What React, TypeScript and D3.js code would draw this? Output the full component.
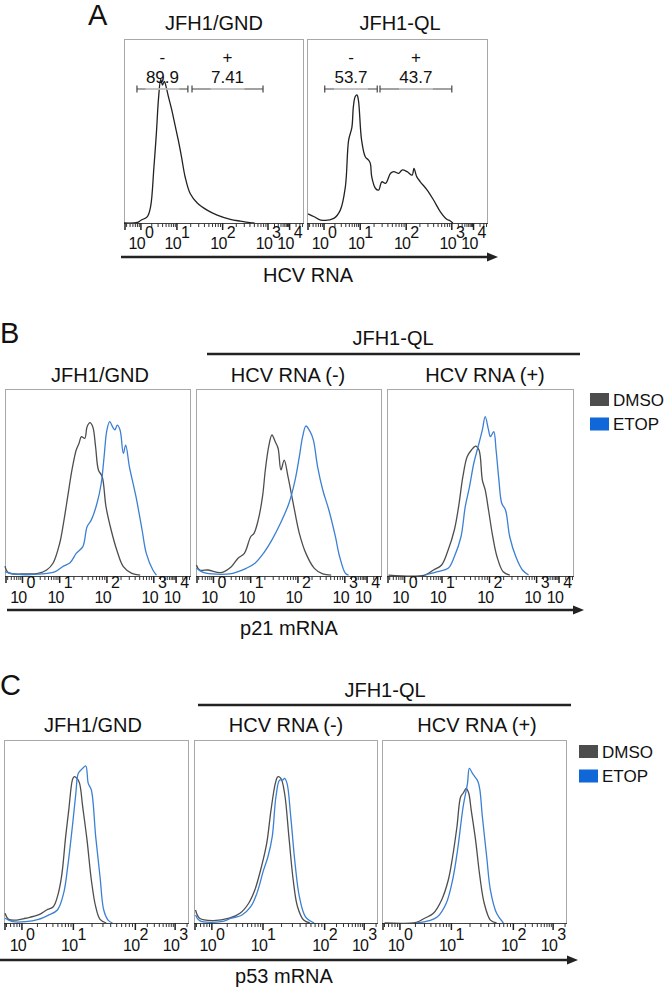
import React from "react";
import * as d3 from "d3";

const FONT = "'Liberation Sans', Arial, Helvetica, sans-serif";

// ---------- DATA ----------
// x values are log10(intensity), y values are % of panel max
const panelATitles = ["JFH1/GND", "JFH1-QL"];
const gateSigns = ["-", "+"];
const aGndGatePct = ["89.9", "7.41"];
const aQlGatePct = ["53.7", "43.7"];
const aGndGates: [number, number][] = [[-0.11, 1.24], [1.33, 2.89]];
const aQlGates: [number, number][] = [[0.02, 1.37], [1.43, 3.0]];

const aGnd: [number, number][] = [[-0.47,0],[-0.1,0.3],[0.0,1.5],[0.18,3.5],[0.27,9],[0.36,30],[0.43,49],[0.49,68],[0.55,78],[0.6,75],[0.65,77],[0.7,74],[0.76,69],[0.85,62],[0.95,53],[1.03,45],[1.1,36],[1.18,25],[1.29,16],[1.44,11],[1.66,7],[1.88,4.3],[2.17,2],[2.39,1],[2.6,0.2],[2.7,0]];
const aQl: [number, number][] = [[-0.44,5],[-0.27,3.4],[-0.09,1.6],[0.27,2.5],[0.45,7],[0.59,19.7],[0.68,45],[0.77,52],[0.81,63],[0.86,68.6],[0.91,69.6],[0.95,66.8],[1.03,45],[1.11,36],[1.18,34.2],[1.22,32.4],[1.25,25.2],[1.33,18.9],[1.40,17.9],[1.47,22.4],[1.55,21.5],[1.66,27],[1.73,27.9],[1.84,27],[1.91,28.8],[2.02,27.9],[2.13,26],[2.17,29.7],[2.23,25.2],[2.31,22.4],[2.46,17.9],[2.60,12.5],[2.75,6.1],[2.89,2],[2.96,1.2],[3.05,0]];

const groupTitle = "JFH1-QL";
const bcTitles = ["JFH1/GND", "HCV RNA (-)", "HCV RNA (+)"];
const legendLabels = ["DMSO", "ETOP"];
const axisTitles = ["HCV RNA", "p21 mRNA", "p53 mRNA"];
const panelLetters = ["A", "B", "C"];
const decadesAB = [0, 1, 2, 3, 4];
const decadesC = [0, 1, 2, 3];

const bGndDmso: [number, number][] = [[-0.47,5.3],[-0.38,1.8],[0.08,1.1],[0.42,1.4],[0.65,3.2],[0.82,6.8],[1.0,17.5],[1.08,28.2],[1.17,42.4],[1.26,56.7],[1.35,67.4],[1.41,71],[1.46,74.5],[1.53,73.6],[1.58,79.8],[1.64,82],[1.70,79.8],[1.76,69.1],[1.82,56.7],[1.90,53.1],[1.98,37.1],[2.09,24.6],[2.21,13.9],[2.35,5],[2.53,1.4],[2.71,0.5]];
const bGndEtop: [number, number][] = [[-0.47,2.3],[-0.26,1.1],[0.54,1.1],[0.88,2.3],[1.08,5.3],[1.22,7.1],[1.35,12.1],[1.49,15.7],[1.58,26.4],[1.67,30],[1.79,38.9],[1.88,49.6],[1.94,63.8],[2.0,78.1],[2.06,82.5],[2.12,79.8],[2.17,78.1],[2.22,80.7],[2.28,78.1],[2.35,65.6],[2.40,70],[2.48,58.4],[2.62,42.4],[2.75,24.6],[2.84,12.1],[2.98,3.2],[3.12,0.5]];
const bNegDmso: [number, number][] = [[-0.46,5.9],[-0.37,3.2],[-0.14,3.2],[0.20,1.8],[0.48,5],[0.66,9.5],[0.83,12.1],[1.0,21],[1.07,22.8],[1.16,30],[1.25,42.4],[1.31,56.7],[1.38,69.1],[1.45,75.4],[1.52,71.8],[1.58,68.3],[1.64,56.7],[1.71,62],[1.79,53.1],[1.90,38.9],[2.03,22.8],[2.17,12.1],[2.35,4.1],[2.53,1.1],[2.71,0.5]];
const bNegEtop: [number, number][] = [[-0.46,4.1],[-0.26,1.8],[0.43,1.1],[0.66,2.3],[0.88,4.1],[1.09,6.8],[1.27,12.1],[1.45,19.3],[1.63,28.2],[1.81,38.9],[1.94,51.3],[2.03,63.8],[2.10,74.5],[2.17,80.2],[2.26,77.2],[2.33,72.7],[2.42,58.4],[2.53,46],[2.66,35.3],[2.80,21],[2.89,10.3],[3.03,1.4],[3.17,0.5]];
const bPosDmso: [number, number][] = [[-0.43,0.5],[0.54,0.5],[0.77,3.2],[0.99,5.9],[1.13,13.9],[1.26,24.6],[1.35,37.1],[1.44,53.1],[1.53,63.8],[1.62,67.4],[1.71,69.5],[1.78,67.4],[1.85,51.3],[1.91,46],[1.98,35.3],[2.07,21],[2.16,10.3],[2.29,2.3],[2.43,0.5]];
const bPosEtop: [number, number][] = [[0.54,0.5],[0.88,2.3],[1.13,4.1],[1.26,10.3],[1.40,21],[1.49,37.1],[1.58,47.8],[1.67,60.3],[1.76,69.1],[1.85,78.1],[1.91,85.2],[1.98,78.1],[2.02,74.5],[2.09,77.2],[2.14,67.4],[2.20,51.3],[2.26,38.9],[2.34,35.3],[2.43,21],[2.56,10.3],[2.70,3.2],[2.83,0.5]];

const cGndDmso: [number, number][] = [[-0.33,5.3],[-0.26,2],[-0.10,1.6],[0.07,2.6],[0.32,4.4],[0.48,7.1],[0.61,8.9],[0.69,14.4],[0.77,25.3],[0.85,47.2],[0.91,61.7],[0.98,78.1],[1.01,79.9],[1.06,79],[1.10,76.3],[1.15,63.6],[1.22,45.4],[1.29,23.5],[1.36,8.9],[1.43,2],[1.53,0]];
const cGndEtop: [number, number][] = [[-0.33,2.6],[-0.18,0.7],[0.07,0.7],[0.32,2],[0.52,4.4],[0.69,7.1],[0.81,16.2],[0.89,30.8],[0.98,52.6],[1.04,70.9],[1.08,81.8],[1.15,84.5],[1.20,85.8],[1.24,76.3],[1.29,72.7],[1.36,47.2],[1.43,25.3],[1.49,7.1],[1.56,1.6],[1.63,0]];
const cNegDmso: [number, number][] = [[-0.32,7.1],[-0.24,2.6],[0.01,1.3],[0.34,2.6],[0.55,5.3],[0.72,10.8],[0.84,18],[0.97,30.8],[1.06,43.5],[1.13,61.7],[1.20,76.3],[1.24,79.9],[1.29,79],[1.35,70.9],[1.42,47.2],[1.49,23.5],[1.56,8.9],[1.66,1.6],[1.76,0]];
const cNegEtop: [number, number][] = [[-0.32,4.4],[-0.24,1.3],[0.18,0.7],[0.38,2.6],[0.59,4.4],[0.76,8.9],[0.88,16.2],[1.01,29],[1.08,36.2],[1.15,47.2],[1.21,69],[1.27,78.1],[1.32,78.1],[1.35,79],[1.39,76.3],[1.45,58.1],[1.52,32.6],[1.59,14.4],[1.69,3.4],[1.83,0]];
const cPosDmso: [number, number][] = [[-0.30,0],[0.32,0.4],[0.48,2.6],[0.65,5.3],[0.81,12.6],[0.94,23.5],[1.02,36.2],[1.09,52.6],[1.15,69],[1.19,70.9],[1.24,73.6],[1.28,70.9],[1.32,61.7],[1.39,45.4],[1.46,25.3],[1.53,10.8],[1.63,1.6],[1.73,0]];
const cPosEtop: [number, number][] = [[0.32,0],[0.57,1.3],[0.73,3.4],[0.90,10.8],[1.02,23.5],[1.10,39.9],[1.19,63.6],[1.26,76.3],[1.29,84.5],[1.34,81.8],[1.38,79.9],[1.43,77.2],[1.46,72.7],[1.50,58.1],[1.57,36.2],[1.63,18],[1.73,5.3],[1.84,0]];

// ---------- STYLE / LAYOUT ----------
const GRAY = "#4e4e4e";
const BLUE = "#3b80d4";
const LEG_GRAY = "#4d4d4d";
const LEG_BLUE = "#0f67d8";
const BOX = "#a8a8a8";

const fracAB = [0.094, 0.294, 0.548, 0.8, 0.92];
const fracC = [0.097, 0.375, 0.71, 0.925];
const uRangeAB: [number, number] = [-0.47, 4.67];
const uRangeC: [number, number] = [-0.35, 3.35];

type Curve = { data: [number, number][]; color: string };

function Histo(props: {
  x: number; y: number; w: number; h: number;
  decades: number[]; frac: number[]; uRange: [number, number];
  curves: Curve[]; labelDy: number; labelGap: number;
  gates?: [number, number][]; gatePct?: string[];
}) {
  const { x, y, w, h, decades, frac, uRange, curves, labelDy, labelGap, gates, gatePct } = props;
  const xs = d3.scaleLinear()
    .domain([uRange[0], ...decades, uRange[1]])
    .range([x, ...frac.map((f) => x + f * w), x + w]);
  const ys = d3.scaleLinear().domain([0, 100]).range([y + h, y]);
  const line = d3.line<[number, number]>()
    .x((d) => xs(d[0]))
    .y((d) => ys(d[1]))
    .curve(d3.curveCatmullRom.alpha(0.5));
  const bottom = y + h;
  const minor: number[] = [];
  for (let dd = -1; dd <= decades[decades.length - 1]; dd++) {
    for (let k = 2; k <= 9; k++) {
      const u = dd + Math.log10(k);
      if (u > uRange[0] && u < uRange[1]) minor.push(u);
    }
  }
  return (
    <g>
      <rect x={x + 0.5} y={y + 0.5} width={w - 1} height={h} fill="none" stroke={BOX} strokeWidth={1} />
      {curves.map((c, i) => (
        <path key={i} d={line(c.data) || ""} fill="none" stroke={c.color} strokeWidth={1.3} strokeLinejoin="round" />
      ))}
      <line x1={x} x2={x + w} y1={bottom + 0.5} y2={bottom + 0.5} stroke="#444" strokeWidth={1} />
      <line x1={x + 1} x2={x + 1} y1={bottom} y2={bottom + 7} stroke="#222" strokeWidth={1.5} />
      {minor.map((u, i) => (
        <line key={"m" + i} x1={xs(u)} x2={xs(u)} y1={bottom} y2={bottom + 4} stroke="#333" strokeWidth={1} />
      ))}
      {decades.map((dd) => (
        <line key={"M" + dd} x1={xs(dd)} x2={xs(dd)} y1={bottom} y2={bottom + 7} stroke="#222" strokeWidth={1.5} />
      ))}
      {decades.map((dd) => (
        <text key={"t" + dd} x={xs(dd)} y={bottom + labelGap} textAnchor="middle" fontSize={16} letterSpacing={-0.7} fontFamily={FONT} fill="#111">
          10<tspan dy={labelDy} fontSize={16}>{dd}</tspan>
        </text>
      ))}
      {gates && gatePct && gates.map((g, i) => {
        const x1 = xs(g[0]);
        const x2 = xs(g[1]);
        const mid = (x1 + x2) / 2;
        const gy = 89;
        return (
          <g key={"g" + i}>
            <line x1={x1} x2={x2} y1={gy} y2={gy} stroke="#444" strokeWidth={1.2} />
            <line x1={mid - 17} x2={mid + 17} y1={gy} y2={gy} stroke="#cfcfcf" strokeWidth={1.4} />
            <line x1={x1} x2={x1} y1={gy - 3.5} y2={gy + 3.5} stroke="#444" strokeWidth={1.2} />
            <line x1={x2} x2={x2} y1={gy - 3.5} y2={gy + 3.5} stroke="#444" strokeWidth={1.2} />
            <text x={mid} y={63} textAnchor="middle" fontSize={17} fontFamily={FONT} fill="#111">{gateSigns[i]}</text>
            <text x={mid} y={83} textAnchor="middle" fontSize={17} fontFamily={FONT} fill="#111">{gatePct[i]}</text>
          </g>
        );
      })}
    </g>
  );
}

function Arrow(props: { x1: number; x2: number; y: number }) {
  const { x1, x2, y } = props;
  return (
    <g>
      <line x1={x1} x2={x2 - 8} y1={y} y2={y} stroke="#222" strokeWidth={2.5} />
      <path d={`M${x2 - 11},${y - 4.5} L${x2},${y} L${x2 - 11},${y + 4.5} Z`} fill="#222" />
    </g>
  );
}

function Legend(props: { x: number; y: number }) {
  const { x, y } = props;
  const cols = [LEG_GRAY, LEG_BLUE];
  return (
    <g>
      {legendLabels.map((l, i) => (
        <g key={l}>
          <rect x={x} y={y + i * 24.5} width={19} height={13} fill={cols[i]} />
          <text x={x + 23} y={y + 12.5 + i * 24.5} fontSize={17} fontFamily={FONT} fill="#111">{l}</text>
        </g>
      ))}
    </g>
  );
}

function Title(props: { x: number; y: number; text: string; size?: number; anchor?: string }) {
  return (
    <text x={props.x} y={props.y} textAnchor={props.anchor || "middle"} fontSize={props.size || 20} fontFamily={FONT} fill="#111">
      {props.text}
    </text>
  );
}

export default function App() {
  const aBoxes = [{ x: 124, w: 180 }, { x: 307, w: 181 }];
  const aTitleX = [214, 400];
  const aCurves = [aGnd, aQl];
  const aGates = [aGndGates, aQlGates];
  const aPct = [aGndGatePct, aQlGatePct];

  const bBoxes = [{ x: 5, w: 186 }, { x: 196, w: 186 }, { x: 387, w: 187 }];
  const bTitleX = [100, 288, 485];
  const bDmso = [bGndDmso, bNegDmso, bPosDmso];
  const bEtop = [bGndEtop, bNegEtop, bPosEtop];

  const cBoxes = [{ x: 4, w: 185 }, { x: 194, w: 184 }, { x: 382, w: 185 }];
  const cTitleX = [93, 286, 477];
  const cDmso = [cGndDmso, cNegDmso, cPosDmso];
  const cEtop = [cGndEtop, cNegEtop, cPosEtop];

  return (
    <svg width={666} height={991} style={{ position: "absolute", left: 0, top: 0, background: "#fff" }}>
      <rect x={0} y={0} width={666} height={991} fill="#fff" />
      {/* Panel A */}
      <Title x={88} y={25} text={panelLetters[0]} size={29} anchor="start" />
      {aBoxes.map((b, i) => (
        <g key={"a" + i}>
          <Title x={aTitleX[i]} y={30} text={panelATitles[i]} />
          <Histo x={b.x} y={39} w={b.w} h={184} decades={decadesAB} frac={fracAB} uRange={uRangeAB}
            curves={[{ data: aCurves[i], color: "#222" }]} labelDy={-11} labelGap={26}
            gates={aGates[i]} gatePct={aPct[i]} />
        </g>
      ))}
      <Arrow x1={121} x2={498} y={257} />
      <Title x={308} y={282} text={axisTitles[0]} />

      {/* Panel B */}
      <Title x={0} y={343} text={panelLetters[1]} size={29} anchor="start" />
      <Title x={393} y={345} text={groupTitle} />
      <line x1={207} x2={580} y1={354} y2={354} stroke="#222" strokeWidth={2.5} />
      {bBoxes.map((b, i) => (
        <g key={"b" + i}>
          <Title x={bTitleX[i]} y={382} text={bcTitles[i]} />
          <Histo x={b.x} y={389} w={b.w} h={187} decades={decadesAB} frac={fracAB} uRange={uRangeAB}
            curves={[{ data: bDmso[i], color: GRAY }, { data: bEtop[i], color: BLUE }]} labelDy={-15} labelGap={27} />
        </g>
      ))}
      <Legend x={590} y={393} />
      <Arrow x1={7} x2={584} y={610} />
      <Title x={289} y={635} text={axisTitles[1]} />

      {/* Panel C */}
      <Title x={0} y={695} text={panelLetters[2]} size={29} anchor="start" />
      <Title x={385} y={697} text={groupTitle} />
      <line x1={198} x2={571} y1={705} y2={705} stroke="#222" strokeWidth={2.5} />
      {cBoxes.map((b, i) => (
        <g key={"c" + i}>
          <Title x={cTitleX[i]} y={732} text={bcTitles[i]} />
          <Histo x={b.x} y={740} w={b.w} h={183} decades={decadesC} frac={fracC} uRange={uRangeC}
            curves={[{ data: cDmso[i], color: GRAY }, { data: cEtop[i], color: BLUE }]} labelDy={-11} labelGap={28} />
        </g>
      ))}
      <Legend x={579} y={745} />
      <Arrow x1={0} x2={578} y={960} />
      <Title x={284} y={983} text={axisTitles[2]} />
    </svg>
  );
}
